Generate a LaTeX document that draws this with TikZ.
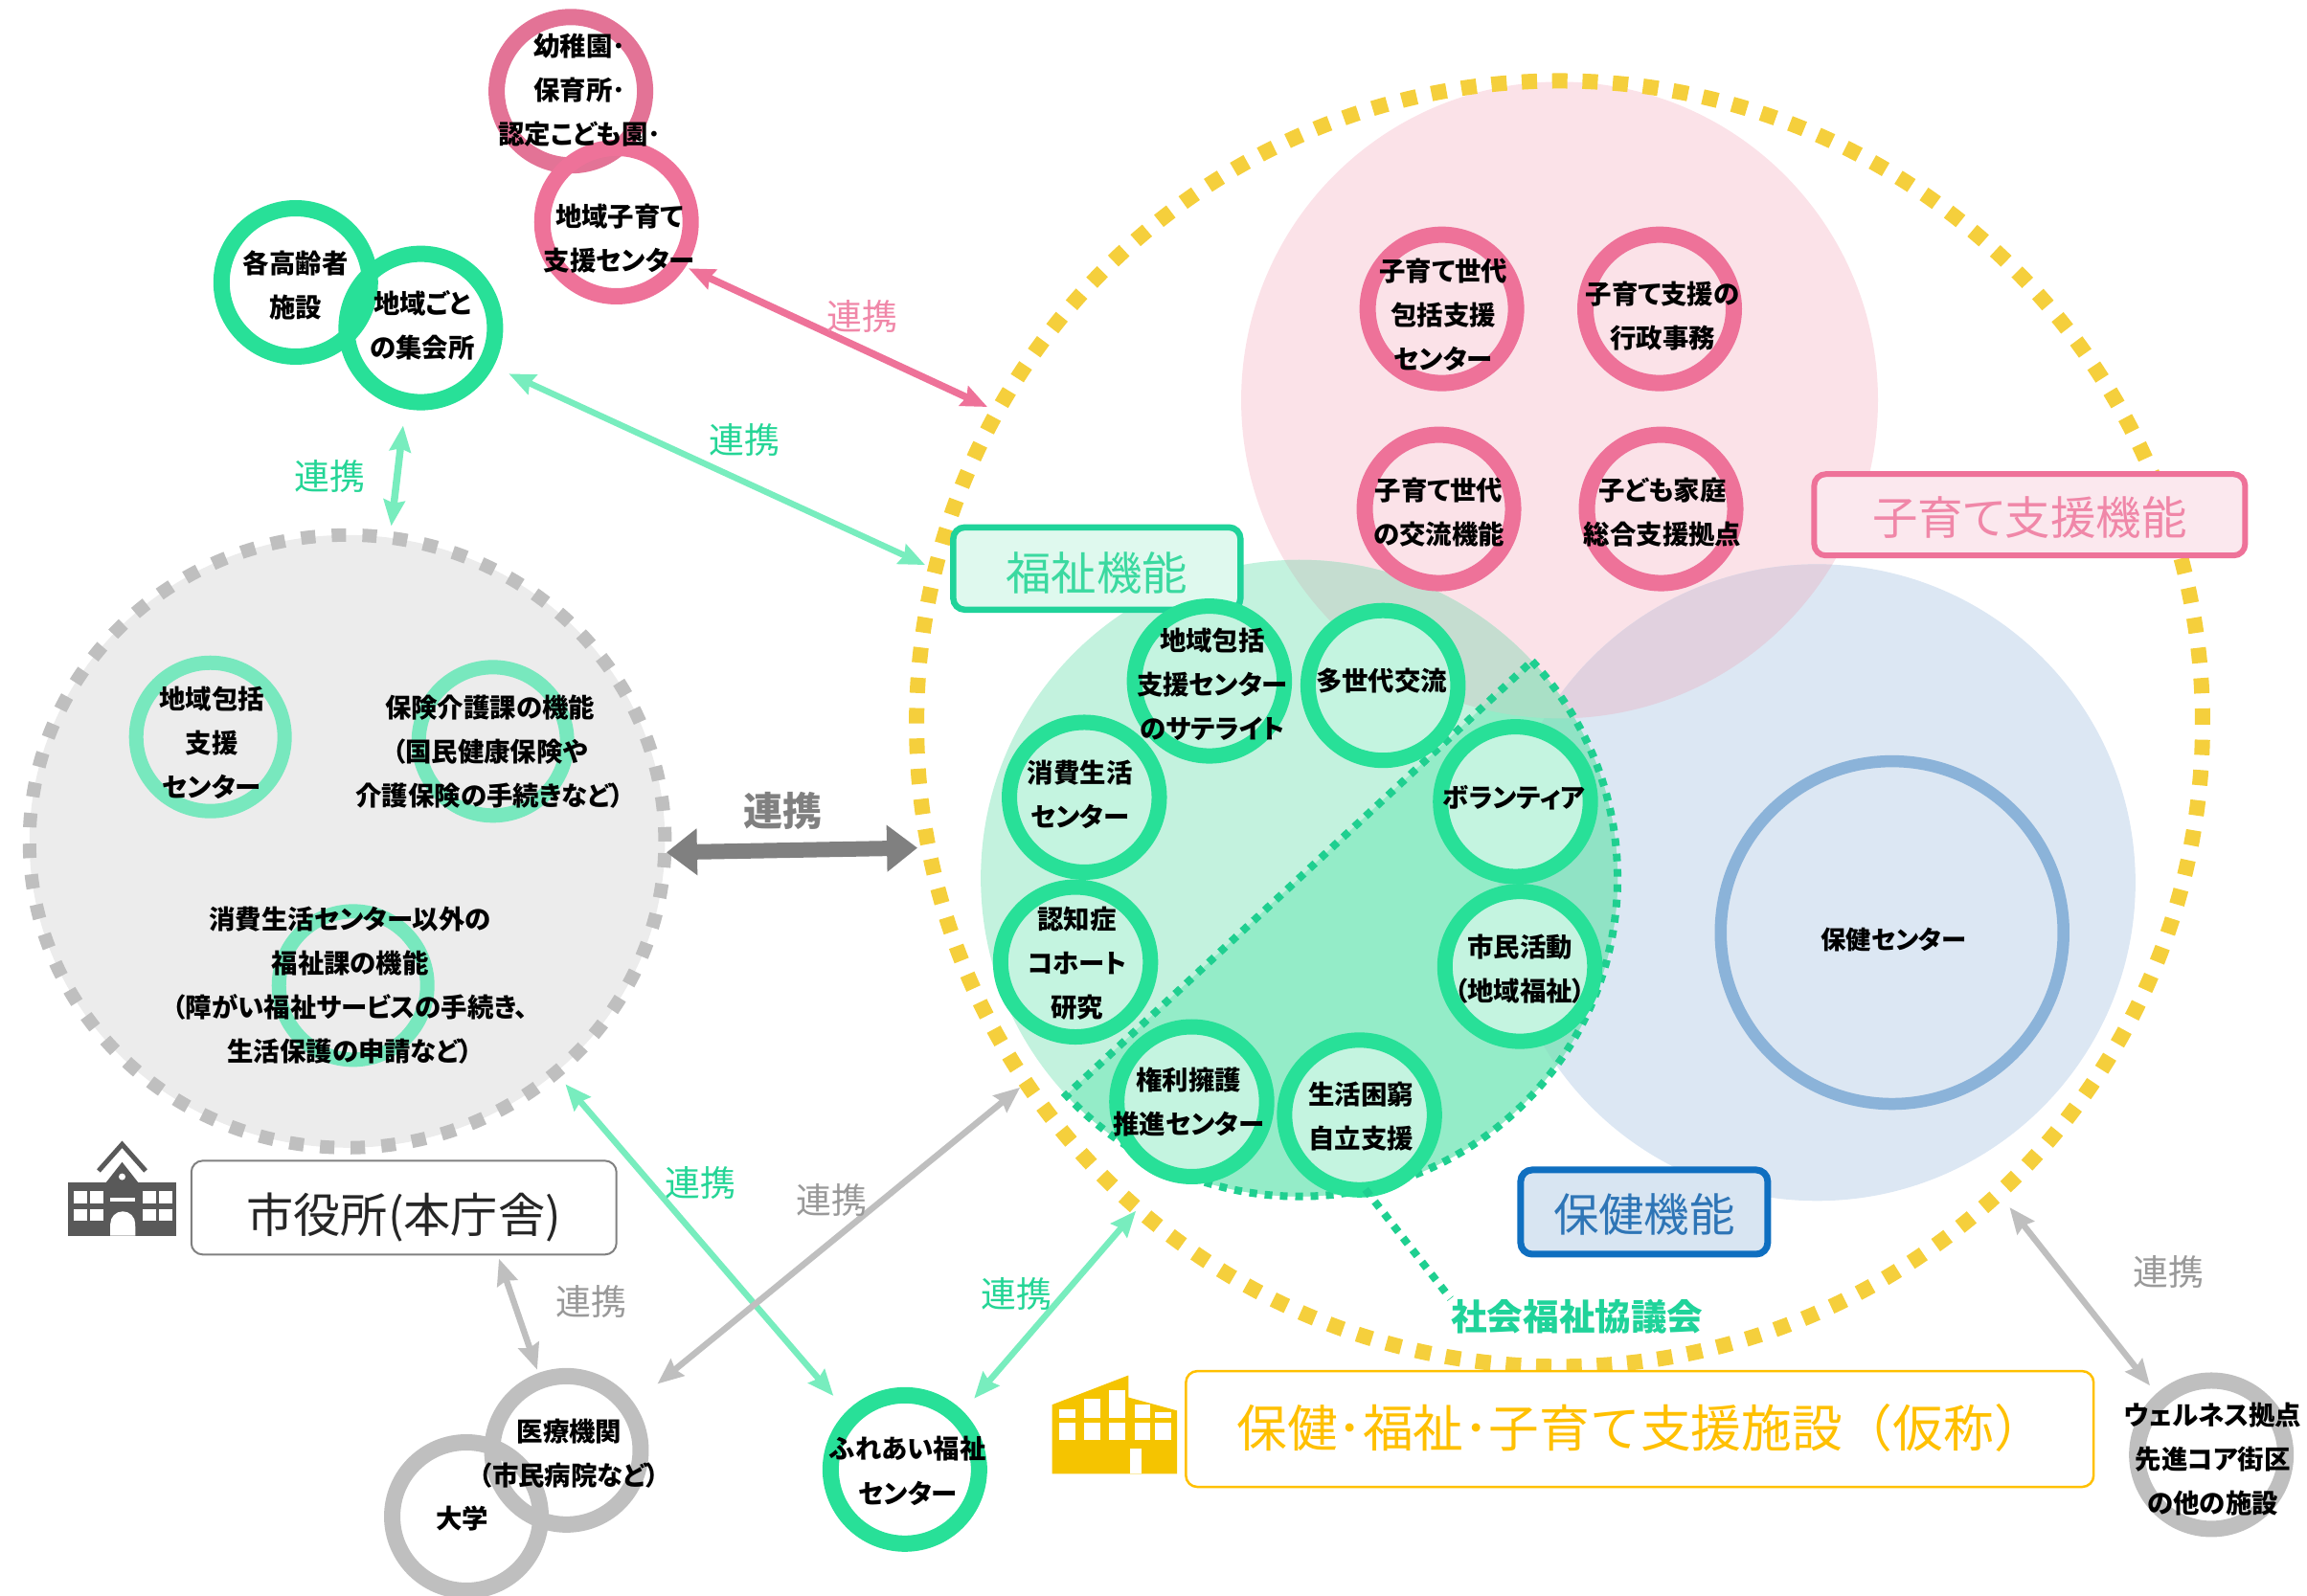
\documentclass[tikz,border=0pt]{standalone}
\usepackage{fontspec}
\setmainfont{Noto Sans CJK JP}[RawFeature=+palt]
\newfontfamily\fullwidth{Noto Sans CJK JP}
\usetikzlibrary{arrows.meta, shapes.geometric}
\definecolor{ringgreen}{HTML}{28E098}
\definecolor{ringpink}{HTML}{EE7299}
\definecolor{ringgray}{HTML}{BFBFBF}
\definecolor{ringpale}{HTML}{78E8BE}
\definecolor{linkgreen}{HTML}{78EDBE}
\definecolor{textgreen}{HTML}{25D596}
\definecolor{boxgreen}{HTML}{20D39A}
\definecolor{dotgreen}{HTML}{1FCF90}
\definecolor{HTMLfill}{HTML}{C4F4E0}
\tikzstyle{area} = [circle, inner sep=0, outer sep=0, minimum size=6.65cm]
\tikzstyle{ring} = [circle, inner sep=0, draw=ringgreen, line width=0.17cm, minimum size=1.55cm]
\tikzstyle{inring} = [ring, fill=HTMLfill, line width=0.16cm, minimum size=1.565cm]
\tikzstyle{rtext} = [align=center, inner sep=0, font=\bfseries\fontsize{7.8}{13.1}\selectfont]
\tikzstyle{linktext} = [inner sep=0, font=\fontsize{10.5}{12}\selectfont]
\tikzstyle{title} = [rectangle, rounded corners=0.12cm, inner sep=0, font=\fontsize{13.5}{16}\selectfont]
\tikzstyle{dotline} = [dotgreen, line width=0.08cm, dash pattern=on 0.08cm off 0.08cm]
\tikzstyle{arrow} = [draw=linkgreen, fill=linkgreen, line width=0.065cm, {Stealth[length=0.27cm, width=0.22cm, inset=0.03cm]}-{Stealth[length=0.27cm, width=0.22cm, inset=0.03cm]}, shorten >=1pt, shorten <=1pt]
\begin{document}
\begin{tikzpicture}[x=0.015364cm, y=-0.015364cm]
\useasboundingbox (0,0) rectangle (1568,1085);

% large areas
\node (kosodateArea) [area, fill={rgb,255:red,251;green,226;blue,232}] at (1060,272) {};
\node (hokenArea) [area, fill={rgb,255:red,220;green,231;blue,243}] at (1235,600) {};
\begin{scope}
\clip (kosodateArea.center) circle [radius=3.325cm];
\fill [fill={rgb,255:red,225;green,209;blue,223}] (hokenArea.center) circle [radius=3.325cm];
\end{scope}
\node (fukushiArea) [area, fill={rgb,255:red,195;green,242;blue,222}] at (883,597) {};
\begin{scope}
\clip (kosodateArea.center) circle [radius=3.325cm];
\fill [fill={rgb,255:red,197;green,221;blue,208}] (fukushiArea.center) circle [radius=3.325cm];
\end{scope}
\fill [fill={rgb,255:red,148;green,236;blue,200}] (fukushiArea.43) arc [start angle=43, end angle=-137, radius=3.325cm] -- cycle;
\begin{scope}
\clip (hokenArea.center) circle [radius=3.325cm];
\fill [fill={rgb,255:red,144;green,227;blue,197}] (fukushiArea.43) arc [start angle=43, end angle=-137, radius=3.325cm] -- cycle;
\end{scope}
\begin{scope}
\clip (kosodateArea.center) circle [radius=3.325cm];
\fill [fill={rgb,255:red,169;green,224;blue,198}] (fukushiArea.43) arc [start angle=43, end angle=-137, radius=3.325cm] -- cycle;
\end{scope}
\draw [dotline] (fukushiArea.43) arc [start angle=43, end angle=-137, radius=3.325cm] -- cycle;

\node (shisetsu) [circle, inner sep=0, minimum size=13.43cm, draw={rgb,255:red,245;green,207;blue,60}, line width=0.16cm, dash pattern=on 0.16cm off 0.1572cm] at (1060,492) {};
\node (honcho) [ellipse, inner sep=0, outer sep=0, fill={rgb,255:red,236;green,236;blue,236}, draw=ringgray, line width=0.14cm, minimum width=6.637cm, minimum height=6.4cm, dash pattern=on 0.15cm off 0.1708cm] at (236,572) {};

% title boxes
\node (fukushiTitle) [title, draw=boxgreen, line width=0.065cm, fill={rgb,255:red,223;green,249;blue,238}, text=textgreen!90!white, minimum width=3.0cm, minimum height=0.86cm] at (745.5,386.5) {\raisebox{-0.23cm}[0pt][0pt]{福祉機能}};
\node (kosodateTitle) [title, draw=ringpink, line width=0.06cm, fill={rgb,255:red,251;green,232;blue,238}, text=ringpink!85!white, minimum width=4.5cm, minimum height=0.85cm] at (1379.5,350) {\raisebox{-0.207cm}[0pt][0pt]{子育て支援機能}};
\node (hokenTitle) [title, draw={rgb,255:red,15;green,111;blue,192}, line width=0.07cm, fill={rgb,255:red,216;green,229;blue,242}, text={rgb,255:red,46;green,117;blue,182}, minimum width=2.58cm, minimum height=0.88cm] at (1117.5,824) {\raisebox{-0.207cm}[0pt][0pt]{保健機能}};
\node (shiyakusho) [title, draw=gray, line width=0.02cm, fill=white, text=black!85, minimum width=4.44cm, minimum height=0.98cm, font=\fontsize{14}{16}\selectfont] at (274.5,821) {\raisebox{-0.26cm}[0pt][0pt]{市役所(本庁舎)}};
\node (shisetsuTitle) [title, draw={rgb,255:red,255;green,192;blue,0}, line width=0.025cm, fill=white, minimum width=9.48cm, minimum height=1.21cm] at (1114.5,971.5) {};
\node (shisetsuText) [inner sep=0, text={rgb,255:red,255;green,192;blue,0}, font=\fullwidth\fontsize{15}{16}\selectfont] at (1115,971) {保健･福祉･子育て支援施設（仮称）};

% rings
\node (yochien) [ring, draw=ringpink!90!gray] at (388,62) {};
\node (chiikiKosodate) [ring, draw=ringpink] at (419,151) {};
\node (koreisha) [ring] at (201,192) {};
\node (shukaijo) [ring] at (286,223) {};
\node (houkatsuHonbu) [ring, draw=ringpale, line width=0.15cm] at (143,501) {};
\node (kaigoka) [ring, draw=ringpale, line width=0.15cm] at (335,504) {};
\node (fukushika) [ring, draw=ringpale, line width=0.15cm] at (240,670) {};
\node (houkatsuSeido) [ring, draw=ringpink] at (980,210) {};
\node (gyosei) [ring, draw=ringpink] at (1128,210) {};
\node (koryu) [ring, draw=ringpink] at (978,346) {};
\node (katei) [ring, draw=ringpink] at (1129,346) {};
\node (satellite) [inring] at (822,463) {};
\node (tasedai) [inring] at (940,466) {};
\node (shohi) [inring] at (737,542) {};
\node (ninchisho) [inring] at (731,654) {};
\node (volunteer) [inring] at (1030,545) {};
\node (shimin) [inring] at (1033,657) {};
\node (kenri) [inring] at (810,749) {};
\node (konkyu) [inring] at (924,758) {};
\node (hokenCenter) [circle, inner sep=0, draw={rgb,255:red,139;green,179;blue,217}, line width=0.125cm, minimum size=3.58cm] at (1286,634) {};
\node (fureai) [ring] at (615,999) {};
\node (iryo) [ring, draw=ringgray] at (385,986) {};
\node (daigaku) [ring, draw=ringgray] at (317,1031) {};
\node (wellness) [ring, draw=ringgray] at (1503,989) {};

% ring texts
\node (yochienText) [rtext] at (394,61) {幼稚園･\\保育所･\\認定こども園･};
\node (chiikiKosodateText) [rtext] at (421,162) {地域子育て\\支援センター};
\node (koreishaText) [rtext] at (201,194) {各高齢者\\施設};
\node (shukaijoText) [rtext] at (287,221) {地域ごと\\の集会所};
\node (houkatsuHonbuText) [rtext] at (144,505) {地域包括\\支援\\センター};
\node (kaigokaText) [rtext] at (333,511) {保険介護課の機能\\（国民健康保険や\\介護保険の手続きなど）};
\node (fukushikaText) [rtext] at (238,670) {消費生活センター以外の\\福祉課の機能\\（障がい福祉サービスの手続き、\\生活保護の申請など）};
\node (houkatsuSeidoText) [rtext] at (981,214) {子育て世代\\包括支援\\センター};
\node (gyoseiText) [rtext] at (1130,215) {子育て支援の\\行政事務};
\node (koryuText) [rtext] at (978,348) {子育て世代\\の交流機能};
\node (kateiText) [rtext] at (1130,348) {子ども家庭\\総合支援拠点};
\node (satelliteText) [rtext] at (824,465) {地域包括\\支援センター\\のサテライト};
\node (tasedaiText) [rtext] at (939,463) {多世代交流};
\node (shohiText) [rtext] at (734,540) {消費生活\\センター};
\node (ninchishoText) [rtext] at (732,655) {認知症\\コホート\\研究};
\node (volunteerText) [rtext] at (1029,542) {ボランティア};
\node (shiminText) [rtext] at (1033,659) {市民活動\\（地域福祉）};
\node (kenriText) [rtext] at (808,749) {権利擁護\\推進センター};
\node (konkyuText) [rtext] at (925,759) {生活困窮\\自立支援};
\node (hokenCenterText) [rtext, font=\bfseries\fontsize{7.5}{13}\selectfont] at (1287,639) {保健センター};
\node (fureaiText) [rtext] at (617,1000) {ふれあい福祉\\センター};
\node (iryoText) [rtext] at (387,988) {医療機関\\（市民病院など）};
\node (daigakuText) [rtext] at (314,1032) {大学};
\node (wellnessText) [rtext] at (1504,992) {ウェルネス拠点\\先進コア街区\\の他の施設};
\node (shakyo) [inner sep=0, text=boxgreen, font=\bfseries\fontsize{10.7}{12}\selectfont] at (1072,895) {社会福祉協議会};
\draw [dotline] (fukushiArea.-78) -- (shakyo.north west);

% links
\draw [arrow, draw=ringpink, fill=ringpink, line width=0.075cm] (chiikiKosodate.-33) -- (shisetsu.151.5);
\draw [arrow, shorten <=5pt] (shukaijo.-28) -- (shisetsu.166.3);
\draw [arrow, line width=0.075cm, shorten <=5pt, shorten >=3.5pt] (shukaijo.-101) -- (honcho.82.4);
\draw [arrow, draw=gray, fill=gray, line width=0.16cm, {Stealth[length=0.32cm, width=0.47cm, inset=0cm]}-{Stealth[length=0.32cm, width=0.47cm, inset=0cm]}, shorten <=0.5pt] (honcho.-2) -- (shisetsu.191.85);
\draw [arrow, shorten <=4.5pt, shorten >=6pt] (honcho.-48.4) -- (fureai.135.6);
\draw [arrow, draw=ringgray, fill=ringgray, shorten <=0pt, shorten >=9pt] (shisetsu.214.9) -- (iryo.35.9);
\draw [arrow, shorten <=-1.5pt, shorten >=5pt] (shisetsu.229.8) -- (fureai.45.6);
\draw [arrow, draw=ringgray, fill=ringgray] (shiyakusho.-27.8) -- (iryo.110.8);
\draw [arrow, draw=ringgray, fill=ringgray, shorten <=3pt, shorten >=3pt] (shisetsu.-47.4) -- (wellness.132.5);

\node (linkPink) [linktext, text=ringpink!85!white] at (586,215) {連携};
\node (linkSchoolA) [linktext, text=textgreen] at (506,299) {連携};
\node (linkSchoolB) [linktext, text=textgreen] at (224,324) {連携};
\node (linkMain) [inner sep=0, text=gray, font=\bfseries\fontsize{11.7}{14}\selectfont] at (532,551) {連携};
\node (linkFureaiA) [linktext, text=textgreen] at (476,804) {連携};
\node (linkIryoA) [linktext, text=gray!80] at (565,816) {連携};
\node (linkFureaiB) [linktext, text=textgreen] at (691,880) {連携};
\node (linkIryoB) [linktext, text=gray!80] at (402,885) {連携};
\node (linkWellness) [linktext, text=gray!80] at (1474,865) {連携};

% school icon
\fill [black!65] (46,804) rectangle (120,840);
\fill [black!65] (72,804) -- (83,790) -- (94,804) -- cycle;
\draw [black!65, line width=0.05cm] (67,796) -- (83,778) -- (99,796);
\fill [white] (83,800) circle [radius=0.035cm];
\foreach \x in {50,61,97,108} {
\fill [white] (\x,810) rectangle ++(9,8);
\fill [white] (\x,822) rectangle ++(9,8);
}
\fill [white] (75,814) rectangle (92,817);
\fill [white] (75,840) -- (75,832) arc [start angle=180, end angle=0, radius=0.13cm] -- (92,840) -- cycle;

% building icon
\fill [fill={rgb,255:red,245;green,196;blue,0}] (715,955) -- (767,935) -- (767,950) -- (800,959) -- (800,1002) -- (715,1002) -- cycle;
\foreach \x/\t in {720/958, 737/951, 754/945, 771/955, 785/960} {
\fill [white] (\x,\t) rectangle (\x+11,964);
\fill [white] (\x,967) rectangle (\x+11,979);
}
\fill [white] (768,985) rectangle (776,1002);
\end{tikzpicture}
\end{document}
